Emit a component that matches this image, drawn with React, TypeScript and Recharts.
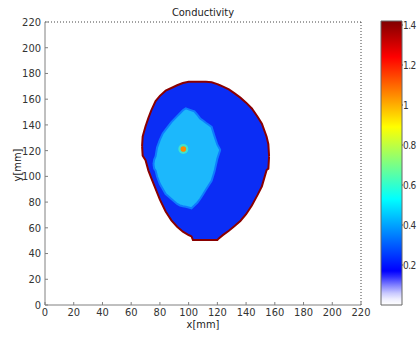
import { ComposedChart, Area, Scatter, XAxis, YAxis, ReferenceLine, BarChart, Bar } from 'recharts';

const axisTicks = [0, 20, 40, 60, 80, 100, 120, 140, 160, 180, 200, 220];
const colorTicks = [0.2, 0.4, 0.6, 0.8, 1, 1.2, 1.4];
const colorMax = 1.42;

// outer boundary of the object, x in mm with lower / upper y in mm
const outerX = [67.6, 68, 70, 72, 74, 77, 80, 84, 88, 92, 96, 100, 102, 103, 108, 112, 116, 120, 121, 124, 128, 132, 136, 140, 144, 148, 151, 153, 154.3, 155.5, 156];
const outerLow = [123.5, 116, 112.5, 104.5, 98.7, 90.2, 81.9, 72.7, 65.8, 60.8, 57.0, 54.4, 53.3, 50.5, 50.5, 50.5, 50.5, 50.5, 51.8, 54.5, 57.7, 61.4, 65.3, 70.6, 77.4, 85.6, 92.2, 100, 104.9, 106, 115.5];
const outerHigh = [123.5, 131, 139, 145.5, 151.3, 158.5, 162.6, 166.6, 168.7, 170.8, 172.6, 173.6, 173.6, 173.6, 173.6, 173.6, 173.2, 171.7, 171.2, 169.8, 167.6, 164.5, 161.2, 157.3, 152.8, 146.3, 141, 134.8, 130.8, 125, 115.5];

// higher conductivity region (~0.42)
const innerX = [75.5, 76, 77, 78, 80, 82, 84, 86, 88, 90, 92, 94, 96, 98, 100, 102, 104, 106, 108, 110, 112, 114, 116, 118, 120, 121.8, 122.2];
const innerLow = [109.5, 106, 104.5, 99.9, 94, 90.1, 86.3, 84.4, 82.4, 80.4, 78.5, 77.4, 76.8, 76.3, 75.8, 75.2, 77.3, 79.5, 82.4, 85.9, 89.6, 93.1, 96.5, 103.7, 113.8, 120, 120.5];
const innerHigh = [109.5, 113, 115.7, 122.4, 128.5, 133.4, 136.3, 139.3, 142.2, 144.5, 146.8, 149.1, 151.4, 152.9, 152.1, 151.3, 150.5, 147.9, 145, 143.4, 141.7, 140.1, 138.4, 131.3, 124.6, 121, 120.5];

// small hot spot
const peakX = [96.3];
const peakY = [121.3];

const outer = outerX.map((x, i) => ({ x, range: [outerLow[i], outerHigh[i]] }));
const inner = innerX.map((x, i) => ({ x, range: [innerLow[i], innerHigh[i]] }));
const peaks = peakX.map((x, i) => ({ x, y: peakY[i] }));
const colorbar = [{ name: 'c', v: colorMax }];

const FONT = "'Liberation Sans Narrow', 'DejaVu Sans Condensed', 'Liberation Sans', sans-serif";
const tickStyle = { fontSize: 11, fill: '#333' };

const PeakDot = (p: any) => (
  <g>
    <circle cx={p.cx} cy={p.cy} r={5} fill="#3fe3cf" />
    <circle cx={p.cx} cy={p.cy} r={2.8} fill="#ff8a00" />
  </g>
);

export default function App() {
  return (
    <div style={{ position: 'absolute', left: 0, top: 0, width: 417, height: 338, background: '#fff', fontFamily: FONT }}>
      <ComposedChart width={417} height={338} margin={{ top: 22, right: 56, bottom: 0, left: 0 }}>
        <XAxis
          type="number"
          dataKey="x"
          domain={[0, 220]}
          ticks={axisTicks}
          interval={0}
          allowDataOverflow
          height={33}
          tickSize={-3}
          tickMargin={6}
          tick={tickStyle}
          stroke="#808080"
        />
        <YAxis
          type="number"
          dataKey="y"
          domain={[0, 220]}
          ticks={axisTicks}
          interval={0}
          allowDataOverflow
          width={45}
          tickSize={-3}
          tickMargin={7}
          tick={tickStyle}
          stroke="#808080"
        />
        <Area
          data={outer}
          dataKey="range"
          type="linear"
          fill="#0b2df5"
          fillOpacity={1}
          stroke="#8a0000"
          strokeWidth={2}
          isAnimationActive={false}
        />
        <Area
          data={inner}
          dataKey="range"
          type="linear"
          fill="#1cb8fc"
          fillOpacity={1}
          stroke="#0e7cff"
          strokeWidth={2}
          isAnimationActive={false}
        />
        <Scatter data={peaks} dataKey="y" shape={PeakDot} isAnimationActive={false} />
        <ReferenceLine y={220} stroke="#444" strokeDasharray="1 2" />
        <ReferenceLine x={220} stroke="#444" strokeDasharray="1 2" />
      </ComposedChart>

      <div style={{ position: 'absolute', left: 375, top: 0 }}>
        <BarChart width={42} height={338} data={colorbar} margin={{ top: 21, right: 0, bottom: 33, left: 6 }} barCategoryGap={0}>
          <defs>
            <linearGradient id="jet" x1="0" y1="1" x2="0" y2="0">
              <stop offset="0" stopColor="#ffffff" />
              <stop offset="0.021" stopColor="#eeeeff" />
              <stop offset="0.042" stopColor="#c8c8ff" />
              <stop offset="0.07" stopColor="#8080ff" />
              <stop offset="0.099" stopColor="#3030ff" />
              <stop offset="0.12" stopColor="#0000ff" />
              <stop offset="0.373" stopColor="#00ffff" />
              <stop offset="0.5" stopColor="#80ff80" />
              <stop offset="0.627" stopColor="#ffff00" />
              <stop offset="0.873" stopColor="#ff0000" />
              <stop offset="1" stopColor="#800000" />
            </linearGradient>
          </defs>
          <XAxis dataKey="name" hide />
          <YAxis
            orientation="right"
            domain={[0, colorMax]}
            ticks={colorTicks}
            interval={0}
            width={15}
            tickSize={1}
            tickMargin={0}
            axisLine={false}
            tick={{ fontSize: 10, fill: '#333', textAnchor: 'start', letterSpacing: -0.5 }}
            stroke="#555"
          />
          <Bar dataKey="v" fill="url(#jet)" stroke="#666" strokeWidth={1} isAnimationActive={false} />
        </BarChart>
      </div>

      <div style={{ position: 'absolute', left: 45, width: 316, top: 7, textAlign: 'center', fontSize: 11, lineHeight: '12px', color: '#222' }}>
        Conductivity
      </div>
      <div style={{ position: 'absolute', left: 45, width: 316, top: 319, textAlign: 'center', fontSize: 11, lineHeight: '11px', color: '#222' }}>
        x[mm]
      </div>
      <div style={{ position: 'absolute', left: -12, width: 60, top: 159, textAlign: 'center', fontSize: 11, lineHeight: '12px', color: '#222', transform: 'rotate(-90deg)' }}>
        y[mm]
      </div>
    </div>
  );
}
